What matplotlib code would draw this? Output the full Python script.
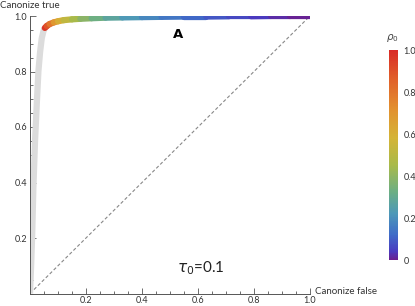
import matplotlib.pyplot as plt
import numpy as np
from matplotlib.collections import LineCollection
from matplotlib.colors import LinearSegmentedColormap, Normalize
from matplotlib.ticker import MultipleLocator, FixedLocator

# grey part of the ROC curve (rho0 outside the shown range)
grey_x = [0.0, 0.004, 0.008, 0.012, 0.018, 0.025, 0.03, 0.036, 0.042, 0.048, 0.053]
grey_y = [0.0, 0.1, 0.22, 0.38, 0.55, 0.7, 0.8, 0.87, 0.92, 0.945, 0.957]

# coloured part, coloured by rho0
roc_x = [0.053, 0.06, 0.07, 0.085, 0.1, 0.12, 0.15, 0.18, 0.22, 0.27, 0.33,
         0.4, 0.47, 0.55, 0.63, 0.71, 0.79, 0.86, 0.93, 1.0]
roc_y = [0.957, 0.964, 0.971, 0.977, 0.981, 0.985, 0.988, 0.990, 0.992, 0.994,
         0.995, 0.996, 0.997, 0.998, 0.998, 0.999, 0.999, 1.0, 1.0, 1.0]
roc_rho = [1.0, 0.93, 0.85, 0.74, 0.65, 0.56, 0.48, 0.42, 0.36, 0.3, 0.25,
           0.2, 0.16, 0.13, 0.1, 0.075, 0.05, 0.03, 0.015, 0.0]

rainbow = LinearSegmentedColormap.from_list("mma_rainbow", [
    (0.0, "#6b1f8f"), (0.04, "#4a3bc0"), (0.12, "#3f6cc8"), (0.22, "#4d98b8"),
    (0.32, "#6aae86"), (0.45, "#a8ba4a"), (0.58, "#d4b437"), (0.72, "#e2902f"),
    (0.86, "#e1612a"), (1.0, "#d92a26")])

plt.rcParams['font.family'] = ['Lato', 'DejaVu Sans']
fig = plt.figure(figsize=(4.15, 3.06), dpi=100)
ax = fig.add_axes([30/415, 12.5/306, 280/415, 277.5/306])

ax.plot([0, 1], [0, 1], ls=(0, (3, 2)), color="#888888", lw=0.8)
ax.plot(grey_x, grey_y, color="#dcdcdc", lw=4.5, solid_capstyle="butt", zorder=2)

pts = np.column_stack([roc_x, roc_y])
segs = np.stack([pts[:-1], pts[1:]], axis=1)
seg_rho = 0.5 * (np.array(roc_rho[:-1]) + np.array(roc_rho[1:]))
lc = LineCollection(segs, cmap=rainbow, norm=Normalize(0, 1), lw=4.5,
                    capstyle="round", joinstyle="round", zorder=3)
lc.set_array(seg_rho)
ax.add_collection(lc)

ax.set_xlim(0, 1)
ax.set_ylim(0, 1)
for s in ["top", "right"]:
    ax.spines[s].set_visible(False)
for s in ["left", "bottom"]:
    ax.spines[s].set_color("#555555")
    ax.spines[s].set_linewidth(0.7)
ax.xaxis.set_major_locator(FixedLocator([0.2, 0.4, 0.6, 0.8, 1.0]))
ax.yaxis.set_major_locator(FixedLocator([0.2, 0.4, 0.6, 0.8, 1.0]))
ax.xaxis.set_minor_locator(MultipleLocator(0.05))
ax.yaxis.set_minor_locator(MultipleLocator(0.05))
ax.tick_params(which="both", direction="in", color="#555555", labelsize=6.5,
               labelcolor="#333333", width=0.6, pad=2)
ax.tick_params(which="major", length=4)
ax.tick_params(which="minor", length=2)

fig.text(0.0, 1 - 5/306, "Canonize true", fontsize=7, color="#333333", va="center")
fig.text(315/415, 1 - 291/306, "Canonize false", fontsize=7, color="#333333", va="center")

ax.text(0.53, 0.935, "A", fontsize=9.5, fontweight="bold", ha="center", va="center",
        family="DejaVu Sans")
ax.text(0.61, 0.09, r"$\tau_0$=0.1", fontsize=11, ha="center", va="center", color="#222222")

cax = fig.add_axes([389/415, 46/306, 9/415, 210/306])
cb = fig.colorbar(plt.cm.ScalarMappable(norm=Normalize(0, 1), cmap=rainbow), cax=cax)
cb.outline.set_visible(False)
cb.set_ticks([0, 0.2, 0.4, 0.6, 0.8, 1.0])
cb.set_ticklabels(["0", "0.2", "0.4", "0.6", "0.8", "1.0"])
cax.tick_params(labelsize=6.5, length=0, labelcolor="#333333", pad=4)
fig.text(392/415, 1 - 38/306, r"$\rho_0$", fontsize=7.5, color="#444444",
         ha="center", va="center")

fig.savefig("out.png", dpi=100)
